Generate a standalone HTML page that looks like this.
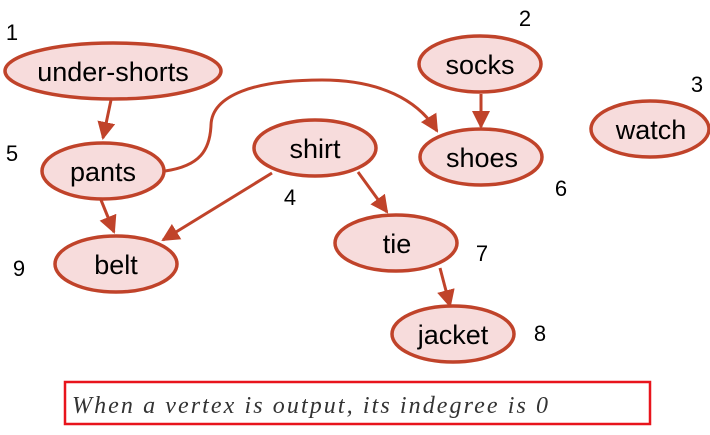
<!DOCTYPE html>
<html><head><meta charset="utf-8"><style>
html,body{margin:0;padding:0;background:#fff;}
svg{display:block;}
.n{fill:#f7dcdc;stroke:#c0432a;stroke-width:3.5;}
.e{stroke:#c0432a;stroke-width:3;fill:none;}
.l{font-family:"Liberation Sans",sans-serif;font-size:27px;fill:#000;text-anchor:middle;}
.k{font-family:"Liberation Sans",sans-serif;font-size:22px;fill:#000;text-anchor:middle;}
</style></head><body>
<svg width="710" height="435" viewBox="0 0 710 435" xmlns="http://www.w3.org/2000/svg">
<defs>
<marker id="b" markerWidth="18" markerHeight="18" refX="16" refY="9" orient="auto" markerUnits="userSpaceOnUse" viewBox="0 0 18 18"><path d="M0,0 L18,9 L0,18 z" fill="#c0432a"/></marker></defs>
<path class="e" d="M111,100 L103,138" marker-end="url(#b)"/>
<path class="e" d="M101,200 L114,232" marker-end="url(#b)"/>
<path class="e" d="M272,173 L163,240" marker-end="url(#b)"/>
<path class="e" d="M358,172 L387,212" marker-end="url(#b)"/>
<path class="e" d="M481,94 L481,127" marker-end="url(#b)"/>
<path class="e" d="M440,268 L450,306" marker-end="url(#b)"/>
<path class="e" d="M165,171 C200,166 210,150 211,125 C212,95 255,80 322,80 C380,80 418,100 437,131" marker-end="url(#b)"/>
<ellipse class="n" cx="113" cy="71" rx="108" ry="28"/>
<ellipse class="n" cx="103" cy="171" rx="61" ry="28"/>
<ellipse class="n" cx="116" cy="264" rx="61" ry="28"/>
<ellipse class="n" cx="315" cy="148" rx="61" ry="28"/>
<ellipse class="n" cx="480" cy="64" rx="61" ry="28"/>
<ellipse class="n" cx="481" cy="157" rx="61" ry="28"/>
<ellipse class="n" cx="650" cy="129" rx="59" ry="28"/>
<ellipse class="n" cx="396" cy="243" rx="61" ry="28"/>
<ellipse class="n" cx="453" cy="334" rx="61" ry="28"/>
<text class="l" x="113" y="81">under-shorts</text>
<text class="l" x="103" y="181">pants</text>
<text class="l" x="116" y="274">belt</text>
<text class="l" x="315" y="158">shirt</text>
<text class="l" x="480" y="74">socks</text>
<text class="l" x="482" y="167">shoes</text>
<text class="l" x="651" y="139">watch</text>
<text class="l" x="397" y="253">tie</text>
<text class="l" x="453" y="344">jacket</text>
<text class="k" x="12" y="40">1</text>
<text class="k" x="525" y="26">2</text>
<text class="k" x="697" y="92">3</text>
<text class="k" x="12" y="161">5</text>
<text class="k" x="290" y="205">4</text>
<text class="k" x="561" y="196">6</text>
<text class="k" x="482" y="261">7</text>
<text class="k" x="540" y="341">8</text>
<text class="k" x="19" y="276">9</text>
<rect x="65" y="382" width="585" height="42" fill="#fff" stroke="#e8141c" stroke-width="2.5"/>
<text x="72" y="413" font-family="Liberation Serif,serif" font-style="italic" font-size="24" fill="#333" textLength="476" lengthAdjust="spacing">When a vertex is output, its indegree is 0</text>
</svg>
</body></html>
